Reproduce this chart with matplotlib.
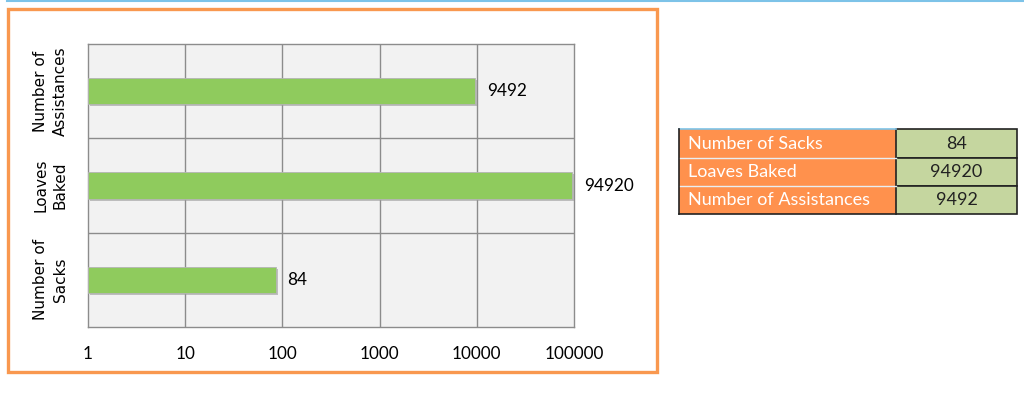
import matplotlib.pyplot as plt
import matplotlib.patheffects as pe
from matplotlib.patches import Rectangle
from matplotlib.lines import Line2D

W, H = 1024, 411
DPI = 100

categories = ['Number of Sacks', 'Loaves Baked', 'Number of Assistances']
axis_labels = ['Number of\nSacks', 'Loaves\nBaked', 'Number of\nAssistances']
values = [84, 94920, 9492]
x_ticks = [1, 10, 100, 1000, 10000, 100000]
x_tick_labels = ['1', '10', '100', '1000', '10000', '100000']

BAR_GREEN = '#8FCB5D'
ORANGE = '#FF914D'
TABLE_GREEN = '#C5D69F'
BORDER_ORANGE = '#F9984F'
GRID = '#8C8C8C'
NUM_FONT = ['Lato', 'DejaVu Sans']

fig = plt.figure(figsize=(W / DPI, H / DPI), dpi=DPI)

def fx(px):
    return px / W

def fy(py):
    return 1 - py / H

# thin blue line along the top and the orange frame around the chart
fig.add_artist(Line2D([fx(7), 1], [fy(1), fy(1)], color='#7DC3E8', lw=1.5))
fig.add_artist(Rectangle((fx(8), fy(372)), fx(649), 363 / H, fill=False,
                         edgecolor=BORDER_ORANGE, lw=2.4))

# bar chart
ax = fig.add_axes([fx(88), fy(327), fx(486), 283 / H])
ax.set_facecolor('#F2F2F2')
pos = list(range(len(values)))
bars = ax.barh(pos, values, height=0.28, color=BAR_GREEN, left=1, zorder=3,
               edgecolor='#B5B5B5', linewidth=0.6)
for b in bars:
    b.set_path_effects([pe.SimplePatchShadow(offset=(1.5, -1.5), shadow_rgbFace='#9A9A9A', alpha=0.6),
                        pe.Normal()])

ax.set_xscale('log')
ax.set_xlim(1, 100000)
ax.set_ylim(-0.5, 2.5)
ax.set_xticks(x_ticks)
ax.set_xticklabels(x_tick_labels, fontsize=12.3, family=NUM_FONT)
ax.xaxis.set_minor_locator(plt.NullLocator())
ax.set_yticks(pos)
ax.set_yticklabels(axis_labels, rotation=90, va='center', ha='center',
                   fontsize=11, linespacing=1.4)
ax.tick_params(axis='x', length=0, pad=14, colors='black')
ax.tick_params(axis='y', length=0, pad=27)

for t in x_ticks[1:-1]:
    ax.axvline(t, color=GRID, lw=1, zorder=1)
for yb in [0.5, 1.5]:
    ax.axhline(yb, color=GRID, lw=1, zorder=1)
for s in ax.spines.values():
    s.set_color(GRID)
    s.set_linewidth(1)

for p, v in zip(pos, values):
    ax.annotate(str(v), (v, p), xytext=(9, 0), textcoords='offset points',
                va='center', ha='left', fontsize=12.3, family=NUM_FONT)

# data table on the right
tx0, tx1, tx2 = 679, 896, 1017
ty = [129, 158, 186, 214]
tab = fig.add_axes([fx(tx0), fy(ty[-1]), fx(tx2 - tx0), (ty[-1] - ty[0]) / H])
tab.set_xlim(tx0, tx2)
tab.set_ylim(ty[-1], ty[0])
tab.axis('off')
for i, (name, v) in enumerate(zip(categories, values)):
    y0, y1 = ty[i], ty[i + 1]
    tab.add_patch(Rectangle((tx0, y0), tx1 - tx0, y1 - y0, facecolor=ORANGE,
                            edgecolor='none', clip_on=False))
    tab.add_patch(Rectangle((tx1, y0), tx2 - tx1, y1 - y0, facecolor=TABLE_GREEN,
                            edgecolor='#222222', lw=1.2, clip_on=False))
    tab.text(tx0 + 9, (y0 + y1) / 2, name, color='white', va='center', ha='left',
             fontsize=13, family=NUM_FONT)
    tab.text((tx1 + tx2) / 2, (y0 + y1) / 2, str(v), color='#222222', va='center',
             ha='center', fontsize=13, family=NUM_FONT)
for yb in ty[1:-1]:
    tab.plot([tx0, tx1], [yb, yb], color='#E8EEF2', lw=1, clip_on=False)
tab.plot([tx0, tx1], [ty[0], ty[0]], color='#7DC3E8', lw=1.2, clip_on=False)
tab.plot([tx0, tx0], [ty[0], ty[-1]], color='#222222', lw=1.2, clip_on=False)
tab.plot([tx0, tx1], [ty[-1], ty[-1]], color='#222222', lw=1.2, clip_on=False)

fig.savefig('out.png', dpi=DPI)
